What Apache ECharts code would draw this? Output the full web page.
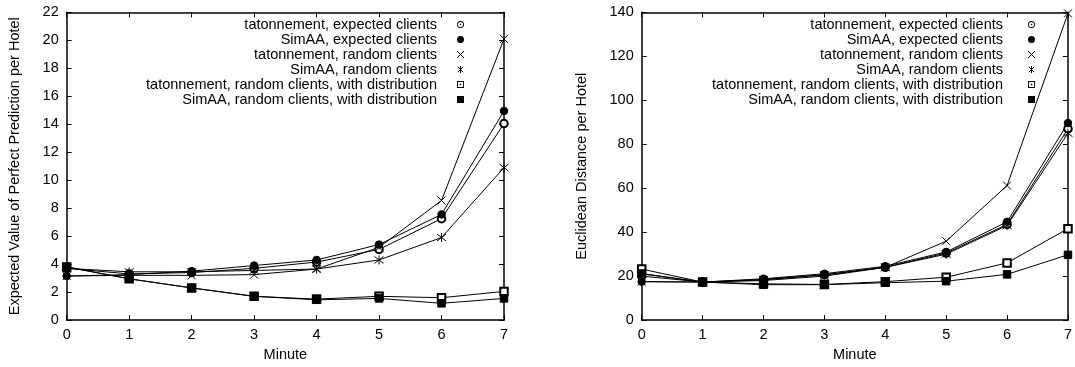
<!DOCTYPE html>
<html>
<head>
<meta charset="utf-8">
<script src="https://cdn.jsdelivr.net/npm/echarts@6/dist/echarts.min.js"></script>
<style>
  html, body { margin: 0; padding: 0; background: #fff; }
  #chart { width: 1075px; height: 367px; }
</style>
</head>
<body>
<div id="chart"></div>
<script>
const minutes = [0, 1, 2, 3, 4, 5, 6, 7]
const seriesNames = [
  'tatonnement, expected clients',
  'SimAA, expected clients',
  'tatonnement, random clients',
  'SimAA, random clients',
  'tatonnement, random clients, with distribution',
  'SimAA, random clients, with distribution'
]

// left panel: expected value of perfect prediction per hotel
const evppTatExpected = [3.7, 3.3, 3.4, 3.7, 4.15, 5.05, 7.25, 14.05]
const evppSimExpected = [3.15, 3.25, 3.5, 3.9, 4.3, 5.4, 7.55, 14.95]
const evppTatRandom = [3.15, 3.2, 3.2, 3.25, 3.65, 5.2, 8.55, 20.1]
const evppSimRandom = [3.7, 3.45, 3.45, 3.55, 3.65, 4.3, 5.9, 10.9]
const evppTatRandomDist = [3.8, 2.95, 2.3, 1.7, 1.5, 1.7, 1.6, 2.05]
const evppSimRandomDist = [3.8, 2.95, 2.3, 1.7, 1.45, 1.55, 1.2, 1.55]

// right panel: euclidean distance per hotel
const edTatExpected = [20, 17.3, 18.5, 20.6, 24, 30.5, 43.5, 87]
const edSimExpected = [17.5, 17.3, 18.8, 21.1, 24.5, 31, 44.7, 89.6]
const edTatRandom = [17.5, 17.3, 18, 20, 24, 35.9, 61.2, 139.5]
const edSimRandom = [21, 17.3, 18.3, 20.6, 24, 30, 43, 85]
const edTatRandomDist = [23.2, 17.3, 16.5, 16.2, 17.5, 19.5, 26, 41.6]
const edSimRandomDist = [21.2, 17.3, 16.1, 16.1, 17, 17.7, 20.8, 29.7]

const xTicks = { min: 0, max: 7, interval: 1 }
const evppTicks = { min: 0, max: 22, interval: 2 }
const edTicks = { min: 0, max: 140, interval: 20 }

const FONT = 'Liberation Sans'
const FS = 14.5
const ROW = 14.4

const symbols = [
  'emptyCircle',
  'circle',
  'path://M0,0L10,10M10,0L0,10',
  'path://M0,0L10,10M10,0L0,10M5,-1.5L5,11.5',
  'emptyRect',
  'rect'
]
const symbolSizes = [7.5, 7.5, 8, 9, 7.5, 7.5]

// gnuplot-like key glyphs (dotted circle / dotted square)
const legendIcons = [
  'path://M5,0A5,5 0 1,1 5,10A5,5 0 1,1 5,0Z M5,1.3A3.7,3.7 0 1,0 5,8.7A3.7,3.7 0 1,0 5,1.3Z M5,4A1,1 0 1,1 5,6A1,1 0 1,1 5,4Z',
  'circle',
  'path://M0,0L10,10M10,0L0,10',
  'path://M0,0L10,10M10,0L0,10M5,-1.5L5,11.5',
  'path://M0,0H10V10H0Z M1.3,1.3V8.7H8.7V1.3Z M4,4H6V6H4Z',
  'rect'
]
const legendStroke = [0, 0, 1, 1, 0, 0]

function makeSeries(values, i, gridIdx) {
  return {
    name: seriesNames[i],
    type: 'line',
    xAxisIndex: gridIdx * 2,
    yAxisIndex: gridIdx * 2,
    data: values.map((v, k) => [minutes[k], v]),
    symbol: symbols[i],
    symbolSize: symbolSizes[i],
    showAllSymbol: true,
    animation: false,
    z: 3,
    lineStyle: { color: '#000', width: 1 },
    itemStyle: { color: '#000', borderColor: '#000', borderWidth: 1 },
    emphasis: { disabled: true }
  }
}

function makeAxes(gridIdx, type, ticks, name, nameGap) {
  const common = {
    type: 'value',
    gridIndex: gridIdx,
    min: ticks.min,
    max: ticks.max,
    interval: ticks.interval,
    splitLine: { show: false },
    axisLine: { show: true, onZero: false, lineStyle: { color: '#000', width: 1.5 } },
    axisTick: { show: true, inside: true, length: 5, lineStyle: { color: '#000', width: 1 } }
  }
  const nameStyle = { fontFamily: FONT, fontSize: FS, color: '#000' }
  const labelStyle = { fontFamily: FONT, fontSize: FS, color: '#000' }
  if (type === 'x') {
    return [
      Object.assign({}, common, {
        position: 'bottom', name: name, nameLocation: 'middle', nameGap: nameGap,
        nameTextStyle: nameStyle,
        axisLabel: Object.assign({ margin: 7 }, labelStyle)
      }),
      Object.assign({}, common, { position: 'top', axisLabel: { show: false } })
    ]
  }
  return [
    Object.assign({}, common, {
      position: 'left', name: name, nameLocation: 'middle', nameGap: nameGap,
      nameTextStyle: nameStyle,
      axisLabel: Object.assign({ margin: 8 }, labelStyle)
    }),
    Object.assign({}, common, { position: 'right', axisLabel: { show: false } })
  ]
}

// key text, right aligned
function makeKeyText(right) {
  return {
    orient: 'vertical',
    align: 'right',
    right: right,
    top: 12,
    itemWidth: 0,
    itemHeight: 7,
    itemGap: 0,
    selectedMode: false,
    textStyle: { fontFamily: FONT, fontSize: FS, color: '#000', lineHeight: ROW },
    data: seriesNames.map(n => ({ name: n, icon: 'none' }))
  }
}

// key glyphs, one column
function makeKeyGlyphs(right) {
  return {
    orient: 'vertical',
    align: 'right',
    right: right,
    top: 12,
    itemWidth: 7,
    itemHeight: 7,
    itemGap: 0,
    selectedMode: false,
    formatter: () => ' ',
    textStyle: { fontFamily: FONT, fontSize: FS, color: '#000', lineHeight: ROW },
    data: seriesNames.map((n, i) => ({
      name: n,
      icon: legendIcons[i],
      itemStyle: { color: '#000', borderColor: '#000', borderWidth: legendStroke[i] }
    }))
  }
}

const chart = echarts.init(document.getElementById('chart'), null, { renderer: 'canvas' })

const leftValues = [evppTatExpected, evppSimExpected, evppTatRandom, evppSimRandom, evppTatRandomDist, evppSimRandomDist]
const rightValues = [edTatExpected, edSimExpected, edTatRandom, edSimRandom, edTatRandomDist, edSimRandomDist]

const option = {
  backgroundColor: '#fff',
  animation: false,
  grid: [
    { left: 66.7, top: 12.3, width: 437.3, height: 308.4 },
    { left: 641.7, top: 12.3, width: 429, height: 308.4 }
  ],
  legend: [
    makeKeyText(1075 - 437 - 10),
    makeKeyGlyphs(1075 - 464.5 - 5),
    makeKeyText(1075 - 1003 - 10),
    makeKeyGlyphs(1075 - 1035.5 - 5)
  ],
  xAxis: [].concat(makeAxes(0, 'x', xTicks, 'Minute', 24), makeAxes(1, 'x', xTicks, 'Minute', 24)),
  yAxis: [].concat(
    makeAxes(0, 'y', evppTicks, 'Expected Value of Perfect Prediction per Hotel', 44),
    makeAxes(1, 'y', edTicks, 'Euclidean Distance per Hotel', 52)
  ),
  series: [].concat(
    leftValues.map((v, i) => makeSeries(v, i, 0)),
    rightValues.map((v, i) => makeSeries(v, i, 1))
  )
}

chart.setOption(option)
</script>
</body>
</html>
